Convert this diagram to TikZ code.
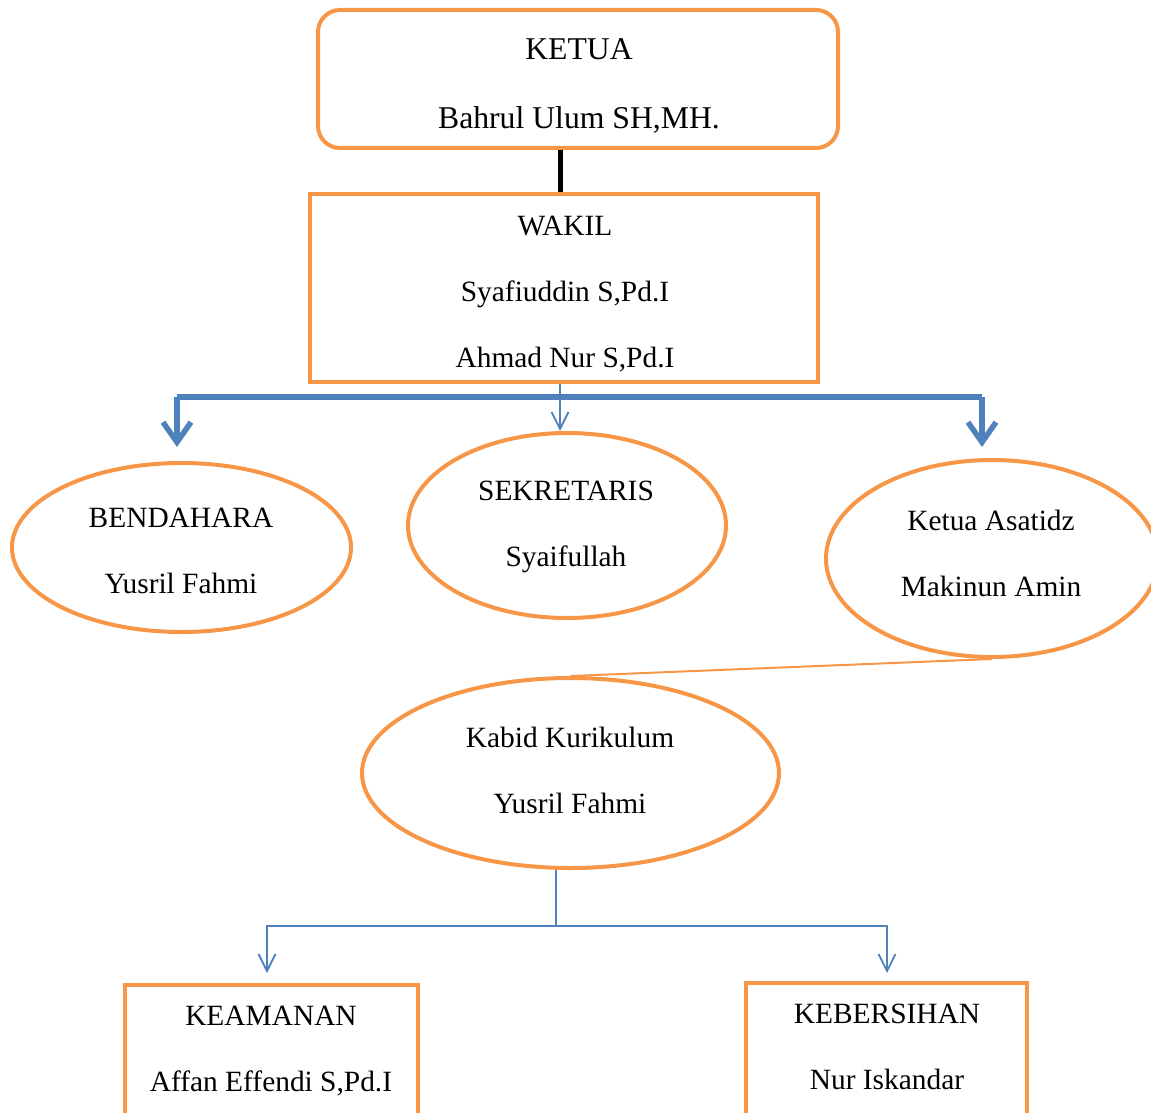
\documentclass[tikz,border=0pt]{standalone}
\usepackage{fontspec}
\setmainfont{Liberation Serif}
\usetikzlibrary{arrows.meta,shapes.geometric}
\definecolor{orng}{HTML}{F79646}
\definecolor{blu}{HTML}{4F81BD}
\tikzset{
  txt/.style={align=center,font=\fontsize{29.4}{66}\selectfont,text=black,inner sep=0pt},
  bigtxt/.style={align=center,font=\fontsize{31.7}{69}\selectfont,text=black,inner sep=0pt},
  obox/.style={draw=orng,line width=4pt,rectangle,inner sep=0pt},
  oell/.style={draw=orng,line width=4pt,ellipse,inner sep=0pt},
  bthick/.style={draw=blu,line width=5.5pt},
  bthin/.style={draw=blu,line width=1.8pt},
  bigtip/.style={-{Straight Barb[length=20pt,width=28pt]}},
  smalltip/.style={-{Straight Barb[length=17pt,width=17pt]}},
}
\begin{document}
\begin{tikzpicture}[x=1pt,y=-1pt]
\useasboundingbox (0,0) rectangle (1151,1113);
\clip (0,0) rectangle (1151,1113);
% shapes
\node[obox,rounded corners=22pt,minimum width=520pt,minimum height=138pt] (ketua) at (578,79) {};
\node[obox,minimum width=508pt,minimum height=188pt] (wakil) at (564,288) {};
\node[oell,minimum width=339pt,minimum height=169pt] (bendahara) at (181.5,547.5) {};
\node[oell,minimum width=318pt,minimum height=185pt] (sekretaris) at (567,525.5) {};
\node[oell,minimum width=332pt,minimum height=197pt] (asatidz) at (992,558.5) {};
\node[oell,minimum width=417pt,minimum height=190pt] (kabid) at (570.5,773) {};
\node[obox,minimum width=293pt,minimum height=220pt,anchor=north] (keamanan) at (271.5,983) {};
\node[obox,minimum width=281pt,minimum height=220pt,anchor=north] (kebersihan) at (886.5,981) {};
% texts
\node[bigtxt] (ketuaT) at (579,85.5) {KETUA\\Bahrul Ulum SH,MH.};
\node[txt] (wakilT) at (565,294) {WAKIL\\Syafiuddin S,Pd.I\\Ahmad Nur S,Pd.I};
\node[txt] (bendaharaT) at (181,550.5) {BENDAHARA\\Yusril Fahmi};
\node[txt] (sekretarisT) at (566,527) {SEKRETARIS\\Syaifullah};
\node[txt] (asatidzT) at (991,553.5) {Ketua Asatidz\\Makinun Amin};
\node[txt] (kabidT) at (570,770.5) {Kabid Kurikulum\\Yusril Fahmi};
\node[txt] (keamananT) at (271,1051) {KEAMANAN\\Affan Effendi S,Pd.I};
\node[txt] (kebersihanT) at (887,1046.5) {KEBERSIHAN\\Nur Iskandar};
% connectors
\draw[line width=5pt,black] ([xshift=-18pt]ketua.south) -- ([xshift=-18pt]ketua.south |- wakil.north);
\coordinate (tipL) at (177,447);
\coordinate (busL) at (177,397);
\coordinate (busR) at (982,397);
\coordinate (tipR) at (982,447);
\draw[bthick,bigtip] (busL) -- (tipL);
\draw[bthick,bigtip] (busR) -- (tipR);
\draw[bthick] (busL) -- (busR);
\draw[bthin,smalltip] ([xshift=-4pt]wakil.south) -- ([xshift=-4pt]wakil.south |- sekretaris.north);
\draw[draw=orng,line width=2pt] (asatidz.south) -- (kabid.north);
\coordinate (jn) at (556,926);
\coordinate (jl) at (267,926);
\coordinate (jr) at (887,926);
\coordinate (al) at (267,973);
\coordinate (ar) at (887,973);
\draw[bthin] ([xshift=-14.5pt]kabid.south) -- (jn);
\draw[bthin,smalltip] (jn) -- (jl) -- (al);
\draw[bthin,smalltip] (jn) -- (jr) -- (ar);
\end{tikzpicture}
\end{document}
